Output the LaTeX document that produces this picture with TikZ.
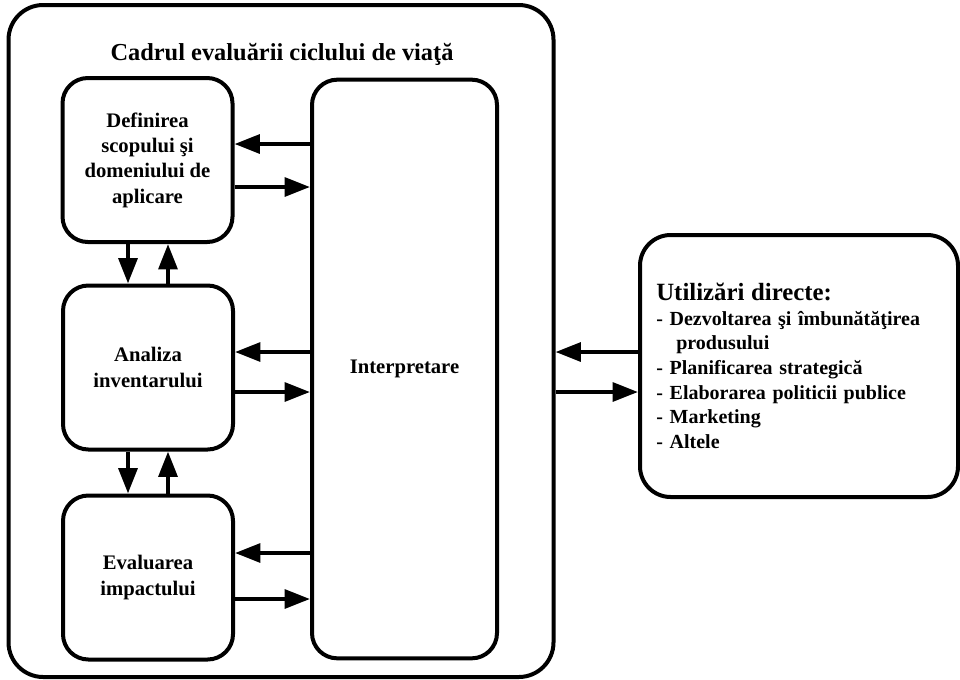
\documentclass[tikz,border=0pt]{standalone}
\usepackage{fontspec}
\setmainfont{Liberation Serif}
\usetikzlibrary{arrows.meta}

\begin{document}
\begin{tikzpicture}[x=0.75pt,y=-0.75pt,
	line width=3pt,
	box/.style={draw, rounded corners=19pt, align=center, inner sep=2pt,
		font=\fontsize{15.5}{19}\selectfont\bfseries},
	stage/.style={box, minimum width=127.5pt, minimum height=123pt},
	arr/.style={-{Triangle[length=19pt,width=14pt]}}
	]
	\useasboundingbox (0,0) rectangle (960,679);
	\node[draw, rounded corners=26pt, minimum width=408.75pt, minimum height=504pt] (frame) at (281,341) {};
	\node[font=\fontsize{18.3}{22}\selectfont\bfseries] (title) at (282,54) {Cadrul evaluării ciclului de viaţă};
	
	\node[stage] (def) at (147.5,160) {Definirea\\scopului şi\\domeniului de\\aplicare};
	\node[stage] (inv) at (148,367.5) {Analiza\\inventarului};
	\node[stage] (imp) at (148,577.5) {Evaluarea\\impactului};
	\node[box, minimum width=138.75pt, minimum height=434pt] (interp) at (404.5,369) {Interpretare};
	
	\node[box, rounded corners=23pt, minimum width=238.5pt, minimum height=196.5pt,
		text width=214pt, inner sep=12pt, align=left,
		font=\fontsize{15}{18.5}\selectfont\bfseries] (uses) at (799,366)
		{{\fontsize{18.6}{21}\selectfont Utilizări directe:}\\
		- Dezvoltarea şi îmbunătăţirea\\
		\hspace*{1em}produsului\\
		- Planificarea strategică\\
		- Elaborarea politicii publice\\
		- Marketing\\
		- Altele};
	
	% interpretare <-> etape
	\draw[arr] (interp.west |- 0,144) -- (def.east |- 0,144);
	\draw[arr] (def.east |- 0,187) -- (interp.west |- 0,187);
	\draw[arr] (interp.west |- 0,352) -- (inv.east |- 0,352);
	\draw[arr] (inv.east |- 0,392) -- (interp.west |- 0,392);
	\draw[arr] (interp.west |- 0,553) -- (imp.east |- 0,553);
	\draw[arr] (imp.east |- 0,599) -- (interp.west |- 0,599);
	
	% etape intre ele
	\draw[arr] (def.south -| 128,0) -- (inv.north -| 128,0);
	\draw[arr] (inv.north -| 168,0) -- (def.south -| 168,0);
	\draw[arr] (inv.south -| 128,0) -- (imp.north -| 128,0);
	\draw[arr] (imp.north -| 168,0) -- (inv.south -| 168,0);
	
	% cadru <-> utilizari
	\draw[arr] (uses.west |- 0,352) -- (frame.east |- 0,352);
	\draw[arr] (frame.east |- 0,392) -- (uses.west |- 0,392);
\end{tikzpicture}
\end{document}
